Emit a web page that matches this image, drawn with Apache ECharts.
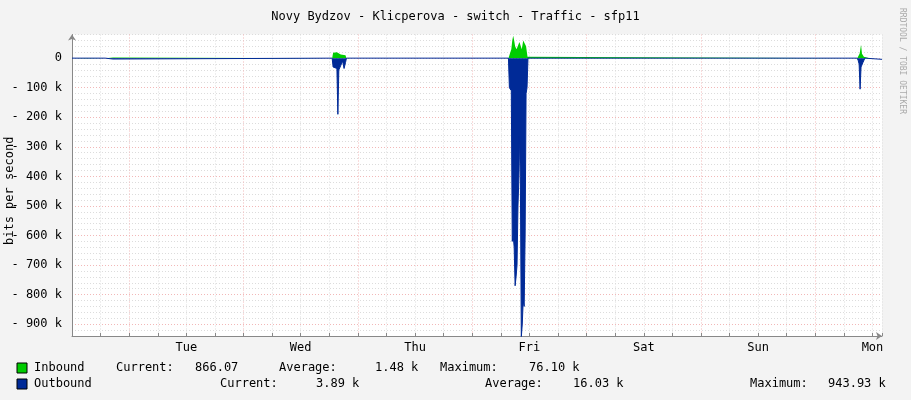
<!DOCTYPE html>
<html><head><meta charset="utf-8">
<script src="https://cdn.jsdelivr.net/npm/echarts@6/dist/echarts.min.js"></script>
<style>html,body{margin:0;background:#f3f3f3}#chart{width:911px;height:400px}</style>
</head><body><div id="chart"></div>
<script>
// hours from Mon 00:00, values in k bits/s
const dayNames = ['', 'Tue', 'Wed', 'Thu', 'Fri', 'Sat', 'Sun', 'Mon'];
const inbound = [
  [0, 0], [3, 0.5], [3.4, 0], [7, 0], [7.3, 2], [8.6, 2], [9, 0],
  [54.6, 0], [54.8, 18], [55.6, 20], [56, 22], [56.4, 12], [57.4, 10], [57.6, 0],
  [78.1, 0], [78.3, 2], [78.5, 0],
  [91.6, 0], [91.8, 10], [92.2, 30], [92.4, 60], [92.6, 76], [92.8, 60], [93.0, 40],
  [93.3, 30], [93.6, 25], [93.9, 55], [94.2, 50], [94.4, 30], [94.7, 60], [95.0, 58],
  [95.3, 40], [95.6, 5], [95.8, 0],
  [164.8, 0], [165.0, 5], [165.3, 15], [165.6, 45], [165.8, 15], [166.2, 5], [166.4, 0],
  [167.4, 0], [167.6, 1], [170, 1]
];
const outbound = [
  [0, 0], [7, 0], [7.3, -3], [8.6, -3], [9, 0],
  [54.6, 0], [54.8, -30], [55.6, -35], [55.8, -190], [56.0, -40], [56.4, -25],
  [56.8, -10], [57.1, -35], [57.4, -15], [57.6, 0],
  [91.6, 0], [91.8, -100], [92.2, -110], [92.4, -620], [92.6, -600], [92.8, -640],
  [93.0, -770], [93.2, -740], [93.4, -700], [93.6, -500], [93.8, -400], [93.9, -265],
  [94.1, -400], [94.3, -944], [94.5, -900], [94.7, -820], [94.9, -840], [95.1, -600],
  [95.3, -120], [95.5, -100], [95.7, 0],
  [125.3, 0], [125.5, -4], [125.7, 0],
  [164.8, 0], [165.0, -8], [165.2, -20], [165.4, -105], [165.6, -30], [166.0, -15],
  [166.4, 0], [170, -4]
];
const legendRows = [
  ['Inbound', '#00cc00', [[116, 'Current:'], [195, '866.07'], [279, 'Average:'], [375, '1.48 k'], [440, 'Maximum:'], [529, '76.10 k']]],
  ['Outbound', '#002a97', [[220, 'Current:'], [316, '3.89 k'], [485, 'Average:'], [573, '16.03 k'], [750, 'Maximum:'], [828, '943.93 k']]]
];

const font = 'DejaVu Sans Mono';
const grey = '#dcdcdc', red = '#f2b8b8';
const chart = echarts.init(document.getElementById('chart'));
const graphic = [];
legendRows.forEach((r, i) => {
  const y = 362 + i * 16;
  graphic.push({type: 'rect', shape: {x: 17, y: y + 1, width: 10, height: 10}, style: {fill: r[1], stroke: '#000', lineWidth: 1}});
  graphic.push({type: 'text', x: 34, y: y, style: {text: r[0], font: '12px ' + font, fill: '#000'}});
  r[2].forEach(t => graphic.push({type: 'text', x: t[0], y: y, style: {text: t[1], font: '12px ' + font, fill: '#000'}}));
});
graphic.push({type: 'text', x: 906, y: 8, rotation: -Math.PI / 2, style: {text: 'RRDTOOL / TOBI OETIKER', font: '8px ' + font, fill: '#aaa'}});
graphic.push({type: 'text', x: 4, y: 245, rotation: Math.PI / 2, style: {text: 'bits per second', font: '12px ' + font, fill: '#000'}});

chart.setOption({
  animation: false,
  backgroundColor: '#f3f3f3',
  title: {text: 'Novy Bydzov - Klicperova - switch - Traffic - sfp11', left: 'center', top: 6,
    textStyle: {fontFamily: font, fontSize: 12, fontWeight: 'normal', color: '#000'}},
  grid: {left: 72, right: 29, top: 34.5, bottom: 64, backgroundColor: '#fff', show: true, borderWidth: 0},
  xAxis: {
    type: 'value', min: 0, max: 170, interval: 6,
    axisLine: {onZero: false, lineStyle: {color: '#888'}, symbol: ['none', 'arrow'], symbolSize: [6, 6]},
    axisTick: {show: true, length: -3, lineStyle: {color: '#888'}},
    axisLabel: {fontFamily: font, fontSize: 12, color: '#000', margin: 6,
      formatter: v => v % 24 === 0 ? dayNames[v / 24] : ''},
    splitLine: {lineStyle: {type: [1, 2], color: [grey, grey, red, grey]}}
  },
  yAxis: {
    type: 'value', min: -940, max: 80, interval: 20,
    axisLine: {lineStyle: {color: '#888'}, symbol: ['none', 'arrow'], symbolSize: [6, 6]},
    axisTick: {show: false},
    axisLabel: {fontFamily: font, fontSize: 12, color: '#000', margin: 10,
      formatter: v => v % 100 !== 0 ? '' : (v === 0 ? '0' : '- ' + (-v) + ' k')},
    splitLine: {lineStyle: {type: [1, 2], color: [grey, grey, red, grey, grey]}}
  },
  graphic: graphic,
  series: [
    {type: 'line', data: inbound, symbol: 'none', lineStyle: {width: 0}, areaStyle: {color: '#00cc00', opacity: 1}},
    {type: 'line', data: outbound, symbol: 'none', lineStyle: {width: 1, color: '#002a97'}, areaStyle: {color: '#002a97', opacity: 1}}
  ]
});
</script></body></html>
